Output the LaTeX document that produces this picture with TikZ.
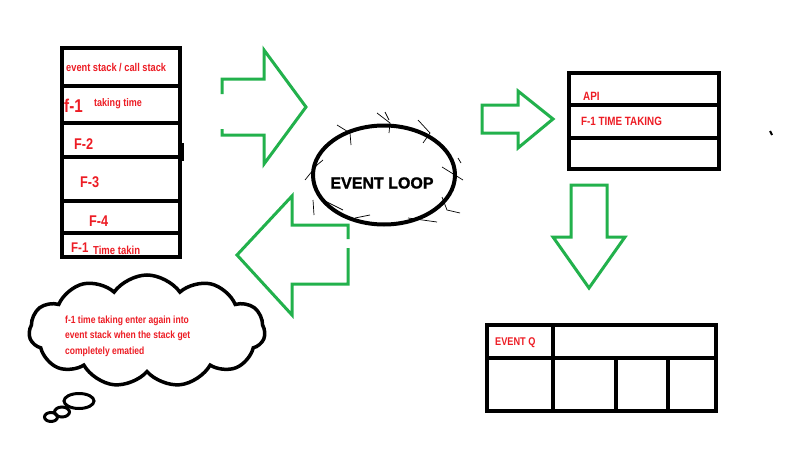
\documentclass[tikz,border=0pt]{standalone}
\usepackage{fontspec}
\setmainfont{Liberation Sans}
\newfontfamily\narrowsans{Liberation Sans}[FakeStretch=0.82]
\newfontfamily\heavysans{Liberation Sans}[FakeBold=1.2]
\usetikzlibrary{shapes.geometric,shapes.symbols}
\definecolor{pred}{RGB}{237,28,36}
\definecolor{pgreen}{RGB}{34,177,76}
\tikzset{
  box/.style={draw=black, line width=4pt, rectangle, inner sep=0pt},
  div/.style={draw=black, line width=3.5pt},
  garrow/.style={draw=pgreen, line width=3pt, line join=miter},
  rlabel/.style={text=pred, inner sep=0pt, anchor=west},
  hair/.style={draw=black, line width=0.7pt},
}
\newcommand{\fsz}[1]{\narrowsans\bfseries\fontsize{#1}{#1}\selectfont}
\begin{document}
\begin{tikzpicture}[x=1pt,y=-1pt]
\useasboundingbox (0,0) rectangle (811,460);
\fill[white] (0,0) rectangle (811,460);

% ---- call stack ----
\node[box, minimum width=118pt, minimum height=209pt] (stack) at (121,152.5) {};
\draw[div] (62,86) -- (182,86);
\draw[div] (62,123) -- (180,123);
\draw[div] (62,157) -- (180,157);
\draw[div] (62,201) -- (180,201);
\draw[div] (62,233) -- (180,233);
\draw[line width=5pt] (181,143) -- (181,161);
\node[rlabel, font=\fsz{11.3}] (s0) at (66,68) {event stack / call stack};
\node[rlabel, font=\fsz{18.5}] (s1) at (64,106) {f-1};
\node[rlabel, font=\fsz{11}] (s1b) at (94,104) {taking time};
\node[rlabel, font=\fsz{15.5}] (s2) at (74,144) {F-2};
\node[rlabel, font=\fsz{15.5}] (s3) at (80,182) {F-3};
\node[rlabel, font=\fsz{15.5}] (s4) at (89,221) {F-4};
\node[rlabel, font=\fsz{14}] (s5) at (71,248) {F-1};
\node[rlabel, font=\fsz{11.6}] (s5b) at (93,250) {Time takin};

% ---- green arrows ----
\draw[garrow] (222,94) -- (222,79) -- (264,79) -- (264,50) -- (306,107) -- (264,164) -- (264,135) -- (222,135) -- (222,129);
\draw[garrow] (348,239) -- (348,225) -- (292,225) -- (292,196) -- (237,255) -- (292,315) -- (292,284) -- (348,284) -- (348,248);
\draw[garrow] (482,105) -- (518,105) -- (518,91) -- (553,119) -- (518,148) -- (518,133) -- (482,133) -- cycle;
\draw[garrow] (571,185) -- (607,185) -- (607,237) -- (625,237) -- (589,288) -- (553,237) -- (571,237) -- cycle;

% ---- event loop ----
\node[ellipse, draw=black, line width=4pt, minimum width=142pt, minimum height=99pt, inner sep=0pt] (loop) at (384,175) {};
\node[font=\heavysans\bfseries\fontsize{16}{16}\selectfont, inner sep=0pt] (looptxt) at (382,183) {EVENT LOOP};
\draw[hair] (377,113) -- (390,123) -- (389,133);
\draw[hair] (337,125) -- (350,133) -- (351,145);
\draw[hair] (418,120) -- (430,133) -- (423,143);
\draw[hair] (442,167) -- (463,180);
\draw[hair] (458,158) -- (461,163);
\draw[hair] (323,160) -- (317,165) -- (305,180);
\draw[hair] (313,200) -- (314,215);
\draw[hair] (323,200) -- (343,210);
\draw[hair] (355,218) -- (370,215);
\draw[hair] (408,218) -- (437,222);
\draw[hair] (442,197) -- (447,210) -- (460,213);
\draw[hair] (385,112) -- (389,120);

% ---- API box ----
\node[box, minimum width=150pt, minimum height=96pt] (api) at (644,121) {};
\draw[div] (569,105) -- (719,105);
\draw[div] (569,138) -- (719,138);
\node[rlabel, font=\fsz{12}] (apitxt) at (583,96) {API};
\node[rlabel, font=\fsz{12}] (f1txt) at (581,121) {F-1 TIME TAKING};
\draw[line width=2pt] (770,131) -- (772,135);

% ---- event queue ----
\node[box, minimum width=229pt, minimum height=86pt] (queue) at (601.5,368) {};
\draw[div] (487,358) -- (716,358);
\draw[div] (553,325) -- (553,411);
\draw[div] (616,358) -- (616,413);
\draw[div] (668,356) -- (668,409);
\node[rlabel, font=\fsz{11.2}] (qtxt) at (495,343) {EVENT Q};

% ---- thought cloud ----
\node[cloud, draw=black, line width=3.5pt, cloud puffs=11, cloud puff arc=110, aspect=2.1, minimum width=236pt, minimum height=112pt, inner sep=0pt] (cloud) at (147,331) {};
\node[text=pred, font=\narrowsans\bfseries\fontsize{10.4}{15.5}\selectfont, align=left, inner sep=0pt, anchor=west] (cloudtxt) at (65,336) {f-1 time taking enter again into\\event stack when the stack get\\completely ematied};
\draw[line width=3pt] (79,401) ellipse [x radius=15, y radius=7.5] coordinate (b1);
\draw[line width=3pt] (62,412) ellipse [x radius=7.5, y radius=5] coordinate (b2);
\draw[line width=3pt] (51,417) ellipse [x radius=6.5, y radius=4.5] coordinate (b3);
\end{tikzpicture}
\end{document}
